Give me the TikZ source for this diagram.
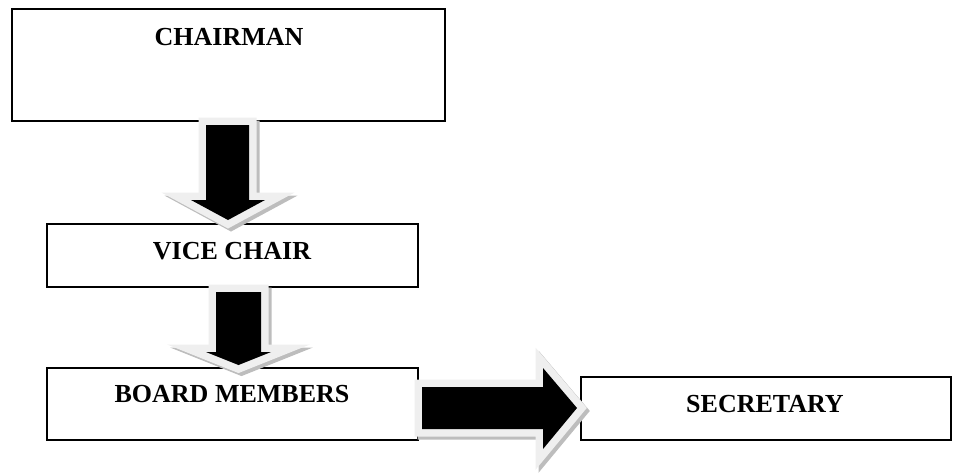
\documentclass[tikz,border=0pt]{standalone}
\usepackage{fontspec}
\setmainfont{Liberation Serif}
\definecolor{rim}{HTML}{EFEFEF}
\definecolor{shade}{HTML}{BDBDBD}
\begin{document}
\begin{tikzpicture}[x=1pt,y=-1pt,
  box/.style={draw=black,line width=1.4pt,fill=white},
  lbl/.style={font=\bfseries\fontsize{26}{30}\selectfont,inner sep=0pt},
  arrowshade/.style={draw=shade,fill=shade,line width=15pt,line join=miter,miter limit=10},
  arrowrim/.style={draw=rim,line width=15pt,line join=miter,miter limit=10},
  arrowbody/.style={fill=black}]
\useasboundingbox (0,0) rectangle (953,472);
% boxes
\draw[box] (12,9) rectangle (445,121);
\draw[box] (47,224) rectangle (418,287);
\draw[box] (47,368) rectangle (418,440);
\draw[box] (581,377) rectangle (951,440);
\node[lbl] (chair) at (229,37) {CHAIRMAN};
\node[lbl] (vice) at (232,251) {VICE CHAIR};
\node[lbl] (board) at (232,394) {BOARD MEMBERS};
\node[lbl] (sec) at (765,404) {SECRETARY};
% arrow 1 : chairman -> vice chair
\def\arrA{(206,125) -- (249,125) -- (249,200) -- (265,200) -- (228,220) -- (191,200) -- (206,200) -- cycle}
\def\arrAs{(209,128) -- (252,128) -- (252,203) -- (268,203) -- (231,223) -- (194,203) -- (209,203) -- cycle}
\draw[arrowshade] \arrAs;
\draw[arrowrim] \arrA;
\fill[arrowbody] \arrA;
% arrow 2 : vice chair -> board members
\def\arrB{(216,292) -- (261,292) -- (261,352) -- (271,352) -- (238.5,365) -- (206,352) -- (216,352) -- cycle}
\def\arrBs{(219,295) -- (264,295) -- (264,355) -- (274,355) -- (241.5,368) -- (209,355) -- (219,355) -- cycle}
\draw[arrowshade] \arrBs;
\draw[arrowrim] \arrB;
\fill[arrowbody] \arrB;
% arrow 3 : board members -> secretary
\def\arrC{(422,387) -- (543,387) -- (543,368) -- (577,408) -- (543,449) -- (543,429) -- (422,429) -- cycle}
\def\arrCs{(425,390) -- (546,390) -- (546,371) -- (580,411) -- (546,452) -- (546,432) -- (425,432) -- cycle}
\draw[arrowshade] \arrCs;
\draw[arrowrim] \arrC;
\fill[arrowbody] \arrC;
\end{tikzpicture}
\end{document}
